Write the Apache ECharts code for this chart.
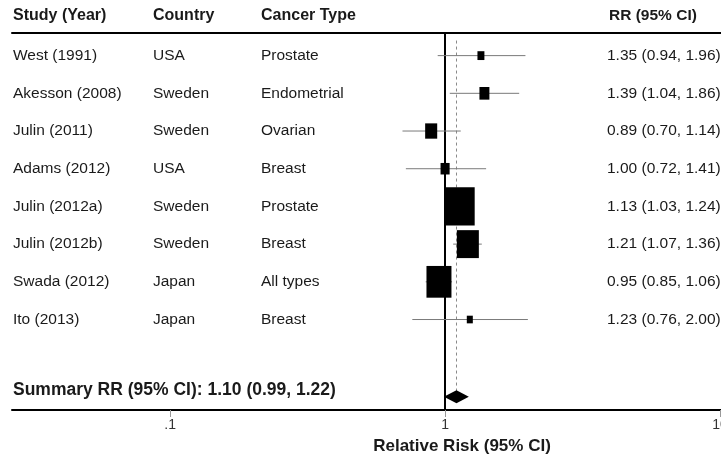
<!DOCTYPE html>
<html><head><meta charset="utf-8">
<script src="https://cdn.jsdelivr.net/npm/echarts@6/dist/echarts.min.js"></script>
<style>html,body{margin:0;padding:0;background:#fff}#c{width:721px;height:459px}</style>
</head><body><div id="c"></div>
<script>
// ---- data ----
const studies = ['West (1991)', 'Akesson (2008)', 'Julin (2011)', 'Adams (2012)', 'Julin (2012a)', 'Julin (2012b)', 'Swada (2012)', 'Ito (2013)'];
const countries = ['USA', 'Sweden', 'Sweden', 'USA', 'Sweden', 'Sweden', 'Japan', 'Japan'];
const cancerTypes = ['Prostate', 'Endometrial', 'Ovarian', 'Breast', 'Prostate', 'Breast', 'All types', 'Breast'];
const rr = [1.35, 1.39, 0.89, 1.00, 1.13, 1.21, 0.95, 1.23];
const lower = [0.94, 1.04, 0.70, 0.72, 1.03, 1.07, 0.85, 0.76];
const upper = [1.96, 1.86, 1.14, 1.41, 1.24, 1.36, 1.06, 2.00];
const weights = [2.0, 4.1, 6.0, 3.4, 37.2, 20.0, 25.8, 1.5];
const summaryRR = 1.10, summaryLower = 0.99, summaryUpper = 1.22;
const tickValues = [0.1, 1, 10];
const tickLabels = ['.1', '1', '10'];

// ---- layout / style constants ----
const FONT = '"Liberation Sans", Arial, sans-serif';
const TXT = '#1a1a1a';
const colX = {study: 13, country: 153, type: 261, rr: 607};
const boxScale = 4.92, boxAspect = 1.27;
const summaryRow = 10.05, summaryTextRow = 9.88;

const chart = echarts.init(document.getElementById('c'), null, {renderer: 'canvas'});

const fmt = v => v.toFixed(2);

function textEl(x, y, text, bold, size, align) {
  return {type: 'text', x: x, y: y, style: {text: text, fill: TXT, fontSize: size || 15.5, fontFamily: FONT,
    fontWeight: bold ? 'bold' : 'normal', align: align || 'left', verticalAlign: 'middle',
    textAlign: align || 'left', textVerticalAlign: 'middle'}};
}

const option = {
  animation: false,
  backgroundColor: '#fff',
  grid: {left: 12, right: 0, top: 33, bottom: 49, containLabel: false, outerBoundsMode: 'none'},
  xAxis: [{
    type: 'log', logBase: 10, min: 0.0266, max: 10.08, position: 'bottom',
    axisLine: {show: true, lineStyle: {color: '#000', width: 2}},
    axisTick: {show: true, customValues: tickValues, length: 7, lineStyle: {color: '#999', width: 1}},
    axisLabel: {show: true, customValues: tickValues, margin: 8, color: '#333', fontSize: 14, fontFamily: FONT,
      hideOverlap: false,
      formatter: v => { const i = tickValues.findIndex(t => Math.abs(Math.log10(t) - Math.log10(v)) < 1e-6); return i < 0 ? '' : tickLabels[i]; }},
    splitLine: {show: false}, minorTick: {show: false}
  }, {
    type: 'log', logBase: 10, min: 0.0266, max: 10.08, position: 'top',
    axisLine: {show: true, lineStyle: {color: '#000', width: 2}},
    axisTick: {show: false}, axisLabel: {show: false}, splitLine: {show: false}
  }],
  yAxis: {type: 'value', inverse: true, min: 0.4, max: 10.4, show: false, splitLine: {show: false}},
  graphic: [
    textEl(13, 16, 'Study (Year)', true, 16),
    textEl(153, 16, 'Country', true, 16),
    textEl(261, 16, 'Cancer Type', true, 16),
    textEl(609, 16, 'RR (95% CI)', true, 15.5),
    textEl(462, 446, 'Relative Risk (95% CI)', true, 17, 'center')
  ],
  series: [
    {
      type: 'line', data: [], xAxisIndex: 0, silent: true, z: 1,
      markLine: {
        silent: true, symbol: ['none', 'none'], label: {show: false}, animation: false, z: 1,
        data: [
          {xAxis: 1, lineStyle: {color: '#000', width: 2, type: 'solid'}},
          [{coord: [summaryRR, 0.6], lineStyle: {color: '#8a8a8a', width: 1, type: [3, 3]}}, {coord: [summaryRR, summaryRow]}]
        ]
      }
    },
    {
      type: 'custom', name: 'studies', xAxisIndex: 0, z: 10,
      encode: {x: [0, 2, 3], y: 1},
      data: rr.map((v, i) => [v, i + 1, lower[i], upper[i], weights[i]]),
      renderItem: (params, api) => {
        const row = api.value(1);
        const c = api.coord([api.value(0), row]);
        const x1 = api.coord([api.value(2), row])[0];
        const x2 = api.coord([api.value(3), row])[0];
        const w = boxScale * Math.sqrt(api.value(4));
        const h = w * boxAspect;
        return {type: 'group', children: [
          {type: 'line', shape: {x1: x1, y1: c[1], x2: x2, y2: c[1]}, style: {stroke: '#7a7a7a', lineWidth: 1}},
          {type: 'rect', shape: {x: c[0] - w / 2, y: c[1] - h / 2, width: w, height: h}, style: {fill: '#000'}}
        ]};
      }
    },
    {
      type: 'custom', name: 'labels', xAxisIndex: 0, z: 10,
      encode: {x: 0, y: 1},
      data: rr.map((v, i) => [1, i + 1]),
      renderItem: (params, api) => {
        const i = params.dataIndex;
        const y = api.coord([1, api.value(1)])[1];
        return {type: 'group', children: [
          textEl(colX.study, y, studies[i]),
          textEl(colX.country, y, countries[i]),
          textEl(colX.type, y, cancerTypes[i]),
          textEl(colX.rr, y, fmt(rr[i]) + ' (' + fmt(lower[i]) + ', ' + fmt(upper[i]) + ')')
        ]};
      }
    },
    {
      type: 'custom', name: 'summary', xAxisIndex: 0, z: 10,
      encode: {x: [0, 2, 3], y: 1},
      data: [[summaryRR, summaryRow, summaryLower, summaryUpper]],
      renderItem: (params, api) => {
        const row = api.value(1);
        const c = api.coord([api.value(0), row]);
        const x1 = api.coord([api.value(2), row])[0];
        const x2 = api.coord([api.value(3), row])[0];
        const ty = api.coord([1, summaryTextRow])[1];
        return {type: 'group', children: [
          {type: 'polygon', shape: {points: [[x1, c[1]], [c[0], c[1] - 6.5], [x2, c[1]], [c[0], c[1] + 6.5]]}, style: {fill: '#000'}},
          textEl(colX.study, ty, 'Summary RR (95% CI): ' + fmt(summaryRR) + ' (' + fmt(summaryLower) + ', ' + fmt(summaryUpper) + ')', true, 17.5)
        ]};
      }
    }
  ]
};
chart.setOption(option);
</script>
</body></html>
